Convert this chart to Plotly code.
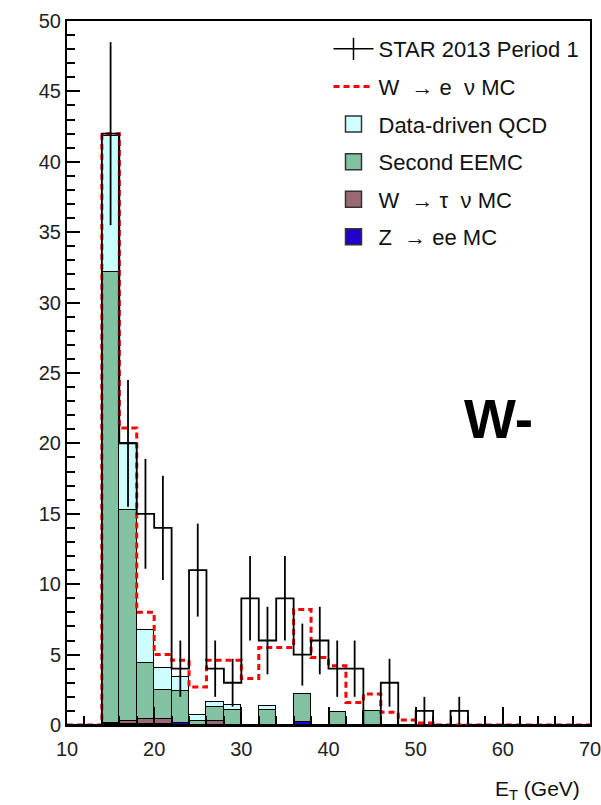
import plotly.graph_objects as go

# ---- data (bins of 2 GeV from 10 to 70) ----
bin_lo = [10, 12, 14, 16, 18, 20, 22, 24, 26, 28, 30, 32, 34, 36, 38,
          40, 42, 44, 46, 48, 50, 52, 54, 56, 58, 60, 62, 64, 66, 68]
bin_hi = [12, 14, 16, 18, 20, 22, 24, 26, 28, 30, 32, 34, 36, 38, 40,
          42, 44, 46, 48, 50, 52, 54, 56, 58, 60, 62, 64, 66, 68, 70]

star_data = [0, 0, 42, 20, 15, 14, 4, 11, 4, 3, 9, 6, 9, 5, 6,
             4, 4, 0, 3, 0, 1, 0, 1, 0, 0, 0, 0, 0, 0, 0]
star_err = [0, 0, 6.5, 4.5, 3.9, 3.7, 2.0, 3.3, 2.0, 1.7, 3.0, 2.4, 3.0, 2.2, 2.4,
            2.0, 2.0, 0, 1.7, 0, 1.0, 0, 1.0, 0, 0, 0, 0, 0, 0, 0]

w_enu_mc = [0, 0, 42.0, 21.1, 8.0, 5.0, 4.6, 2.7, 4.6, 4.6, 3.3, 5.5, 5.5, 8.2, 4.8,
            4.2, 1.6, 2.2, 0.9, 0.35, 0.15, 0, 0, 0, 0, 0, 0, 0, 0, 0]

qcd = [0, 0, 9.7, 4.8, 2.35, 1.55, 1.0, 0.45, 0.3, 0.35, 0, 0.25, 0, 0, 0,
       0, 0, 0, 0, 0, 0, 0, 0, 0, 0, 0, 0, 0, 0, 0]
second_eemc = [0, 0, 32.0, 15.0, 3.95, 2.05, 2.25, 0.25, 1.0, 1.07, 0, 1.1, 0, 2.0, 0,
               0.9, 0, 1.0, 0, 0, 0, 0, 0, 0, 0, 0, 0, 0, 0, 0]
w_taunu_mc = [0, 0, 0.1, 0.15, 0.35, 0.35, 0, 0, 0.3, 0, 0, 0, 0, 0, 0,
              0, 0, 0, 0, 0, 0, 0, 0, 0, 0, 0, 0, 0, 0, 0]
z_ee_mc = [0, 0, 0.05, 0.1, 0.1, 0.1, 0.15, 0, 0, 0, 0, 0, 0, 0.2, 0,
           0, 0, 0, 0, 0, 0, 0, 0, 0, 0, 0, 0, 0, 0, 0]

x_ticks = [10, 20, 30, 40, 50, 60, 70]
y_ticks = [0, 5, 10, 15, 20, 25, 30, 35, 40, 45, 50]

# ---- derived ----
centers = [(a + b) / 2 for a, b in zip(bin_lo, bin_hi)]
widths = [b - a for a, b in zip(bin_lo, bin_hi)]
step_x = bin_lo + [bin_hi[-1]]

FONT = "Liberation Sans, Arial, Helvetica, sans-serif"

fig = go.Figure()

stack = [
    ("Z  → ee MC", z_ee_mc, "#2200cc", 6),
    ("W  → τ  ν MC", w_taunu_mc, "#9a6a74", 5),
    ("Second EEMC", second_eemc, "#82c2a2", 4),
    ("Data-driven QCD", qcd, "#ccffff", 3),
]
for name, vals, col, rank in stack:
    fig.add_trace(go.Bar(
        x=centers, y=vals, width=widths, name=name, showlegend=False,
        marker=dict(color=col, line=dict(color="black", width=1.2)),
    ))
    # larger legend swatch
    fig.add_trace(go.Scatter(
        x=[None], y=[None], mode="markers", name=name, legendrank=rank, legendgroup=name,
        marker=dict(symbol="square", size=16, color=col, line=dict(color="#333", width=1.5)),
    ))

# W -> e nu MC dashed step line
fig.add_trace(go.Scatter(
    x=step_x, y=w_enu_mc + [w_enu_mc[-1]], mode="lines", line_shape="hv",
    name="W  → e  ν MC", legendrank=2, legendgroup="wenu",
    line=dict(color="#ff0000", width=3, dash="6px,4px"),
))

# data step outline
fig.add_trace(go.Scatter(
    x=step_x, y=star_data + [star_data[-1]], mode="lines", line_shape="hv",
    showlegend=False, line=dict(color="black", width=1.8),
))

# data error bars
ex = [c for c, v in zip(centers, star_data) if v > 0]
ey = [v for v in star_data if v > 0]
ee = [e for e, v in zip(star_err, star_data) if v > 0]
fig.add_trace(go.Scatter(
    x=ex, y=ey, mode="markers", showlegend=False,
    marker=dict(size=1, color="black"),
    error_y=dict(type="data", array=ee, color="black", thickness=1.8, width=0),
))

# legend entry for data (cross)
fig.add_trace(go.Scatter(
    x=[None], y=[None], mode="lines+markers", name="STAR 2013 Period 1",
    legendrank=1, legendgroup="star",
    line=dict(color="black", width=1.5),
    marker=dict(symbol="line-ns-open", size=20, color="black",
                line=dict(width=1.5, color="black")),
))

fig.update_layout(
    width=601, height=805,
    margin=dict(l=67, r=11, t=21, b=80, autoexpand=False),
    barmode="stack", bargap=0,
    plot_bgcolor="white", paper_bgcolor="white",
    font=dict(family=FONT, color="black"),
    showlegend=True,
    legend=dict(
        x=0.50, y=0.99, xanchor="left", yanchor="top",
        bgcolor="rgba(255,255,255,0)", borderwidth=0,
        font=dict(size=22, family=FONT, color="#111"),
        tracegroupgap=6, itemwidth=40, traceorder="grouped", itemsizing="trace",
    ),
    annotations=[
        dict(text="<b>W-</b>", x=0.826, y=0.434, xref="paper", yref="paper",
             xanchor="center", yanchor="middle",
             showarrow=False, font=dict(size=55, family=FONT, color="black")),
        dict(text="E<sub>T</sub> (GeV)", x=0.985, y=-0.093, xref="paper", yref="paper",
             xanchor="right", yanchor="middle", showarrow=False,
             font=dict(size=21, family=FONT, color="#111")),
    ],
)

fig.update_xaxes(
    range=[10, 70], tickvals=x_ticks, ticks="inside", ticklen=18, tickwidth=1.5,
    tickcolor="black", showline=True, linecolor="black", linewidth=2, mirror=True,
    showgrid=False, zeroline=False, automargin=False, ticklabeloverflow="allow",
    ticklabelstandoff=5,
    tickfont=dict(size=20, family=FONT, color="#222"),
    minor=dict(ticks="inside", dtick=2, ticklen=9, tickwidth=1.5, tickcolor="black", showgrid=False),
)
fig.update_yaxes(
    range=[0, 50], tickvals=y_ticks, ticks="inside", ticklen=13, tickwidth=1.5,
    tickcolor="black", showline=True, linecolor="black", linewidth=2, mirror=True,
    showgrid=False, zeroline=False, automargin=False, ticklabeloverflow="allow",
    tickfont=dict(size=20, family=FONT, color="#222"),
    minor=dict(ticks="inside", dtick=1, ticklen=8, tickwidth=1.5, tickcolor="black", showgrid=False),
)

fig.write_html("out.html", config={"displayModeBar": False},
               post_script="document.body.style.margin='0px';")
